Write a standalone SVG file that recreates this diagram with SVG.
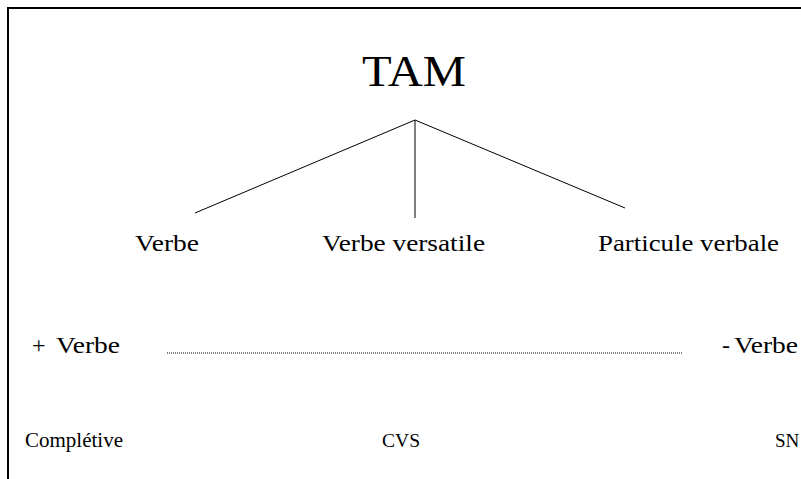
<svg xmlns="http://www.w3.org/2000/svg" width="801" height="479" viewBox="0 0 801 479">
<style>
.m{font-size:24px}
.s{font-size:21px}
.t{font-size:19px}
.ln{stroke:#000;stroke-width:1;fill:none}
</style>
<rect width="801" height="479" fill="#fff"/>
<path d="M8,479 V8 H801" stroke="#000" stroke-width="2" fill="none"/>
<g font-family="Liberation Serif, Times New Roman, Times, serif" fill="#000">
<g id="tam"><text x="362" y="86" font-size="44" textLength="104" lengthAdjust="spacingAndGlyphs">TAM</text></g>
<g id="verbe"><text class="m" x="135" y="251" textLength="64" lengthAdjust="spacingAndGlyphs">Verbe</text></g>
<g id="verbe-versatile"><text class="m" x="322" y="251" textLength="163" lengthAdjust="spacingAndGlyphs">Verbe versatile</text></g>
<g id="particule-verbale"><text class="m" x="598" y="251" textLength="181" lengthAdjust="spacingAndGlyphs">Particule verbale</text></g>
<g id="plus-verbe"><text class="m" x="32" y="353">+</text><text class="m" x="56" y="353" textLength="64" lengthAdjust="spacingAndGlyphs">Verbe</text></g>
<g id="moins-verbe"><text class="m" x="722" y="353">-</text><text class="m" x="734" y="353" textLength="64" lengthAdjust="spacingAndGlyphs">Verbe</text></g>
<g id="completive"><text class="s" x="25" y="447">Complétive</text></g>
<g id="cvs"><text class="t" x="382" y="447" textLength="38" lengthAdjust="spacingAndGlyphs">CVS</text></g>
<g id="sn"><text class="t" x="775" y="447">SN</text></g>
</g>
<g id="connectors">
<line class="ln" x1="415" y1="120" x2="195" y2="213"/>
<line class="ln" x1="415" y1="120" x2="415" y2="218"/>
<line class="ln" x1="415" y1="120" x2="625" y2="208"/>
<line x1="167" y1="353" x2="682" y2="353" stroke="#000" stroke-width="1" stroke-dasharray="1 1"/>
</g>
</svg>
